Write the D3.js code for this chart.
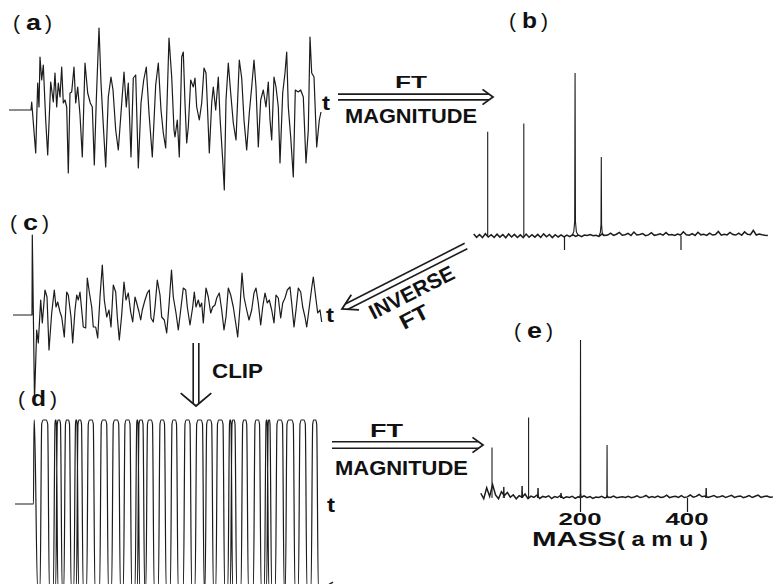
<!DOCTYPE html>
<html><head><meta charset="utf-8">
<script src="https://cdn.jsdelivr.net/npm/d3@7"></script>
<style>
body{margin:0;background:#fff}
svg{display:block}
text{font-family:"Liberation Sans",Arial,Helvetica,sans-serif;fill:#111}
</style></head><body>
<svg id="fig" width="773" height="584"></svg>
<script>
// (a) transient time-domain signal: [time, amplitude]
const signalA = [[-22,0],[0,0],[0.7,8],[4.7,-43],[6.7,27],[8,3],[9,53],[10.7,30],[12.3,45],[14.7,-10],[16.7,-45],[19.7,28],[22.3,8],[24,37],[25.7,3],[27.3,27],[29,13],[30.7,43],[32.3,7],[34,10],[35.7,3],[37.3,-63],[39,17],[40.7,18],[43,43],[44.7,7],[46.7,23],[49,-5],[51.3,-47],[54,47],[56.7,17],[59.3,7],[61.3,3],[63.3,-55],[65.3,10],[68,82],[70,27],[72,-10],[74.7,-57],[77.3,13],[80,33],[82,20],[84.7,-20],[87.3,-40],[90,-3],[93,38],[95.3,3],[97.3,27],[100,-47],[102.3,32],[104.7,35],[107.3,-58],[110,7],[112.7,30],[115.3,43],[118,-3],[121.3,-47],[124.7,25],[127.3,47],[130,0],[132.3,-23],[134.7,-38],[138,72],[140.7,33],[143,-20],[144,-27],[146.3,-10],[148.3,-47],[150.7,53],[152.3,58],[154,7],[155.7,-33],[157.3,-17],[159.7,30],[162.3,23],[164,32],[165.7,3],[168.3,-10],[170.7,7],[173,42],[175,37],[176.3,7],[178.3,-43],[180.7,7],[182.3,23],[184.7,0],[187.3,33],[189,-7],[191.7,-50],[193.3,-80],[195,10],[197.3,47],[199.7,17],[202.3,-13],[205,-30],[208.3,50],[210.7,32],[213,-10],[215.7,-40],[218.3,-3],[220.7,23],[223,50],[225,23],[227.3,-37],[229.7,10],[232.3,20],[235,3],[237.3,28],[239,-10],[240.7,-30],[243,33],[245,23],[247.3,3],[249,-53],[251.7,17],[254,37],[255.7,58],[257.3,3],[259.7,-27],[262.3,-67],[264.3,20],[267.3,18],[269.7,20],[272.3,13],[275,-53],[277.3,-20],[279,73],[280.7,37],[283,33],[285.7,-37],[288.3,-10],[290,-2]];

// (c) inverse transform of the magnitude spectrum: [time, amplitude]
const signalC = [[-19,0],[0,0],[0.3,80],[2.5,-85],[4.7,-15],[6.3,-28],[8.7,15],[10.3,-8],[13,25],[15,18],[17,-35],[19.7,2],[22.3,25],[24,8],[25.7,13],[28,3],[29.7,-2],[32.3,-22],[34.7,23],[36.3,20],[39,-2],[40.7,-28],[43,5],[44.7,20],[46.3,15],[48,23],[49.7,5],[51.3,-12],[53.7,-13],[55.3,37],[57.3,23],[59.7,8],[61.3,-12],[63.7,-12],[65.7,-23],[68,18],[70.3,50],[72.3,15],[74.7,-2],[77,5],[79,-12],[81.3,30],[83.7,23],[85.3,-2],[87.3,-25],[89.7,0],[92,33],[94,15],[96.3,22],[98.7,3],[100.7,-7],[103,18],[104.7,12],[107,3],[108.7,-5],[110.3,5],[113,15],[115.3,22],[117.3,25],[119,-3],[121.3,-7],[123,8],[125.3,35],[128,20],[129.7,-2],[132.3,-5],[134.7,-18],[137,10],[139.5,45],[141.3,18],[144,2],[146.3,-15],[148.7,5],[151.3,27],[153.7,25],[155.3,8],[158,-10],[160.7,8],[162.3,23],[164,8],[166.3,15],[168,8],[169.7,12],[171.3,-8],[174,27],[176.3,18],[178.7,2],[180.7,8],[183,10],[184.7,17],[187.3,22],[189.7,5],[192,-15],[194,-2],[196.3,27],[198.7,20],[201.3,8],[203.7,-8],[205.7,-22],[208,8],[210,42],[212,18],[214.7,5],[217,-5],[219.7,5],[222,22],[224,27],[226.3,12],[228.7,-10],[230.7,8],[233,22],[235.3,12],[237.3,15],[239.7,5],[242,-8],[244,20],[246.3,17],[248.7,-3],[250.7,12],[253,17],[255.3,25],[258,28],[259.7,12],[262,-12],[264,5],[266.3,27],[268.7,23],[270.7,8],[273,-2],[274.7,-12],[277.3,8],[279.7,27],[281.3,38],[283.7,18],[285.7,2],[288,5],[289.7,-7]];

// (d) clipped signal: time intervals spent at the upper clip level
const clipHigh = [[9.7,15.7],[23,24.3],[25.3,28.5],[33.5,37.5],[43.5,45],[46,49.5],[56.3,61.3],[69.3,74.7],[81.3,86.7],[93,98],[104.7,106],[107,111],[115.5,120.5],[128,132.5],[140,144.5],[153,158],[164.7,170.5],[174.7,179.7],[185.5,191],[197.5,199],[200,203],[210.7,214.7],[223,227.5],[234,235.2],[236.2,238],[245,250.5],[255,261.3],[268,273.3],[280.7,284.7]];

// mass spectra: peak masses (amu) and relative magnitudes
const peakMass = [69, 131, 219, 264];
const peakMagB = [64, 69, 100, 48.5];
const peakMagE = [32, 51, 100, 33.5];
const footB = [[0.6,0],[0.6,0],[9,5.5],[7,4]];   // [foot height, half width]
const footE = [[0.5,0],[0.5,0],[3,3],[2,2.5]];
const spursE = [[89,7],[120,7.6],[147,6.3],[186,3.2],[432,6.3]];

// baseline noise, 5 amu spacing
const noiseStartB = 45;
const noiseB = [1.2,-0.8,0.9,-1.0,1.4,-0.6,0.8,-0.9,1.1,-0.7,0.9,-1.1,1.3,-0.6,1.0,-0.9,0.7,-1.0,1.2,-0.8,0.8,-0.7,1.0,-0.9,1.3,-0.5,0.9,-1.0,0.8,-0.6,0.7,-0.5,0.6,-0.4,0.8,-0.3,0.5,-0.4,0.6,0.3,0.9,0.2,0.5,-0.2,1.2,0.3,0.6,1.8,0.4,1.1,2.2,0.5,0.8,1.6,0.3,2.4,0.6,0.9,1.5,0.2,0.7,2.0,0.4,0.8,1.3,0.5,2.1,0.6,0.9,0.3,1.2,0.6,2.6,0.8,0.5,1.4,0.3,2.3,0.7,1.0,0.4,1.8,0.6,0.9,2.8,0.5,1.1,0.7,2.2,0.9,0.6,1.7,0.4,2.5,1.0,0.8,3.4,0.6,1.2,0.8,0.5,0.3];
const noiseStartE = 50;
const noiseE = [3.0,-0.5,6.5,1.0,8.5,2.0,-0.5,4.0,1.5,3.5,0.5,2.0,-0.5,1.5,0.5,2.5,-0.4,1.2,0.4,1.8,-0.3,1.0,0.5,1.4,-0.4,0.9,0.3,1.6,-0.2,0.8,0.4,1.1,-0.3,0.7,0.5,1.3,0.2,0.9,-0.2,0.6,0.3,1.0,0.1,0.7,0.4,1.2,0.2,0.5,0.8,0.3,1.1,0.2,0.6,1.4,0.3,0.7,1.6,0.2,0.9,0.4,1.2,0.3,0.6,1.8,0.2,0.8,1.1,0.4,1.5,0.3,0.7,1.9,0.5,1.0,2.2,0.8,1.3,0.4,0.9,1.6,0.5,0.8,1.4,0.3,1.0,1.7,0.4,0.9,1.3,0.2,0.8,1.5,0.3,1.1,1.8,0.4,0.9,1.2,0.5,0.7];

const minorTicksB = d3.range(80, 541, 20);
const minorTicksE = d3.range(20, 580, 20);
const majorTicks = [200, 400];

const svg = d3.select("#fig");
const ink = "#1c1c1c";

// ---------- scales ----------
const xA = d3.scaleLinear([0, 290], [31, 321]);
const yA = d3.scaleLinear([-82, 82], [192, 28]);
const xC = d3.scaleLinear([0, 290], [32, 322]);
const yC = d3.scaleLinear([-85, 85], [400, 230]);
const yD = d3.scaleLinear([-1, 1], [588, 420]);
const xB = d3.scaleLinear([200, 400], [564, 680.5]);
const yB = d3.scaleLinear([0, 100], [236, 73]);
const xE = d3.scaleLinear([200, 400], [569.3, 687.3]);
const yE = d3.scaleLinear([0, 100], [498, 340]);
// printed mass axis under (e)
const xEaxis = d3.scaleLinear([200, 400], [580, 687]);

const trace = (sx, sy) => d3.line().x(d => sx(d[0])).y(d => sy(d[1]));

// ---------- time-domain traces ----------
svg.append("path").attr("d", trace(xA, yA)(signalA))
  .attr("fill", "none").attr("stroke", ink).attr("stroke-width", 1.2).attr("stroke-linejoin", "round");
svg.append("path").attr("d", trace(xC, yC)(signalC))
  .attr("fill", "none").attr("stroke", ink).attr("stroke-width", 1.2).attr("stroke-linejoin", "round");

// clipped trace: switches between the two clip levels
const dPts = [[-17,0],[1.5,0],[2,1],[2.4,1],[5.5,-1]];
clipHigh.forEach(([a, b]) => {
  const w = b - a;
  dPts.push([a - 1.6, -1], [a, 0.95], [a + w * 0.25, 1], [b - w * 0.25, 1], [b, 0.95], [b + 1.6, -1]);
});
dPts.push([301, -0.93]);
svg.append("path").attr("d", trace(xC, yD).curve(d3.curveMonotoneX)(dPts))
  .attr("fill", "none").attr("stroke", ink).attr("stroke-width", 1.2);

// ---------- spectra ----------
function spectrum(sx, sy, axisScale, minor, start, noise, mags, feet, spurs, yBase) {
  const pts = noise.map((v, i) => [start + i * 5, v]);
  svg.append("path").attr("d", trace(sx, sy)(pts))
    .attr("fill", "none").attr("stroke", ink).attr("stroke-width", 1.5);
  peakMass.forEach((m, i) => {
    const [fh, fw] = feet[i];
    const p = fw > 0
      ? [[m - fw, 0], [m - fw * 0.4, fh * 0.3], [m - fw * 0.12, fh], [m, mags[i]], [m + fw * 0.12, fh], [m + fw * 0.4, fh * 0.3], [m + fw, 0]]
      : [[m, 0], [m, mags[i]]];
    svg.append("path").attr("d", trace(sx, sy)(p))
      .attr("fill", "none").attr("stroke", ink).attr("stroke-width", 1.1);
  });
  spurs.forEach(([m, h]) => {
    svg.append("path").attr("d", trace(sx, sy)([[m - 1, 0], [m, h], [m + 1, 0]]))
      .attr("fill", "none").attr("stroke", ink).attr("stroke-width", 1);
  });
  const [r0, r1] = [sx(start), sx(start + (noise.length - 1) * 5)];
  const inside = v => axisScale(v) > r0 + 6 && axisScale(v) < Math.min(r1, 772);
  const g = svg.append("g").attr("transform", `translate(0,${yBase})`);
  g.call(d3.axisBottom(axisScale).tickValues(minor.filter(inside)).tickSize(7).tickFormat(""));
  g.call(d3.axisBottom(axisScale).tickValues(majorTicks).tickSize(14).tickFormat(""));
  g.selectAll(".domain").remove();
  g.selectAll("line").attr("stroke", ink).attr("stroke-width", 1.2);
}
spectrum(xB, yB, xB, minorTicksB, noiseStartB, noiseB, peakMagB, footB, [], 236);
spectrum(xE, yE, xEaxis, minorTicksE, noiseStartE, noiseE, peakMagE, footE, spursE, 498);

// mass labels for (e)
svg.selectAll(".mlab").data(majorTicks).enter().append("text")
  .attr("x", d => xEaxis(d)).attr("y", 525).attr("text-anchor", "middle")
  .attr("font-size", 17).attr("font-weight", "bold")
  .attr("textLength", 43).attr("lengthAdjust", "spacingAndGlyphs")
  .text(d => d);
svg.append("text").attr("x", 532).attr("y", 546).attr("font-size", 20).attr("font-weight", "bold")
  .attr("textLength", 85).attr("lengthAdjust", "spacingAndGlyphs").text("MASS");
svg.append("text").attr("x", 617).attr("y", 546).attr("font-size", 20).attr("font-weight", "bold")
  .attr("textLength", 91).attr("lengthAdjust", "spacingAndGlyphs").text("( a m u )");

// ---------- labels ----------
function label(txt, x, y, size, len, opts = {}) {
  const t = svg.append("text").attr("x", x).attr("y", y).attr("font-size", size)
    .attr("font-weight", opts.weight || "bold").text(txt);
  if (len) t.attr("textLength", len).attr("lengthAdjust", "spacingAndGlyphs");
  if (opts.rotate) t.attr("transform", `rotate(${opts.rotate},${x},${y})`);
  return t;
}
function panelLabel(ch, x, y) {
  label("(", x, y, 21, null, { weight: "normal" });
  label(ch, x + 13, y, 22, 15);
  label(")", x + 32, y, 21, null, { weight: "normal" });
}
panelLabel("a", 13, 30);
panelLabel("b", 509, 28);
panelLabel("c", 10, 230);
panelLabel("d", 18, 406);
panelLabel("e", 514, 338);

label("t", 322, 110, 20, 8);
label("t", 326, 322, 20, 8);
label("t", 327, 512, 20, 8);

label("FT", 395, 88, 17, 32);
label("MAGNITUDE", 345, 123, 21, 132);
label("FT", 370, 437, 19, 33);
label("MAGNITUDE", 335, 475, 21, 133);
label("CLIP", 212, 378, 21, 51);
label("INVERSE", 373.5, 320, 21, 93, { rotate: -27 });
label("FT", 404, 330, 21, 30, { rotate: -27 });

// ---------- arrows ----------
function doubleArrow(x0, y0, x1, y1, gap, headLen, headAng) {
  const dx = x1 - x0, dy = y1 - y0, L = Math.hypot(dx, dy);
  const ux = dx / L, uy = dy / L, nx = -uy, ny = ux;
  const back = (gap / 2) / Math.tan(headAng);
  [-1, 1].forEach(s => {
    svg.append("line")
      .attr("x1", x0 + s * nx * gap / 2).attr("y1", y0 + s * ny * gap / 2)
      .attr("x2", x1 - ux * back + s * nx * gap / 2).attr("y2", y1 - uy * back + s * ny * gap / 2)
      .attr("stroke", ink).attr("stroke-width", 1.6);
  });
  const c = Math.cos(headAng), sn = Math.sin(headAng);
  const arm = s => [x1 - headLen * (ux * c - s * nx * sn), y1 - headLen * (uy * c - s * ny * sn)];
  const a1 = arm(1), a2 = arm(-1);
  svg.append("path").attr("d", `M${a1[0]},${a1[1]}L${x1},${y1}L${a2[0]},${a2[1]}`)
    .attr("fill", "none").attr("stroke", ink).attr("stroke-width", 1.8).attr("stroke-linejoin", "miter");
}
const rad = Math.PI / 180;
doubleArrow(338, 97, 493, 97, 5.8, 13, 36 * rad);
doubleArrow(332, 445, 483, 445, 6.5, 13, 36 * rad);
doubleArrow(466, 246, 342, 309, 6, 17, 30 * rad);
doubleArrow(196, 343, 196, 406, 5.6, 20, 50 * rad);
</script></body></html>
